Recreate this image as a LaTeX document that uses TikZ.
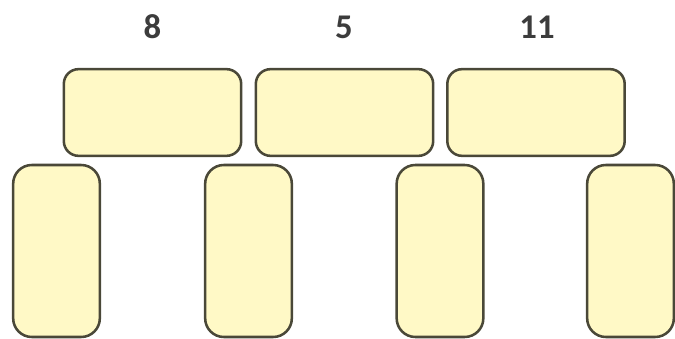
\documentclass[tikz,border=0pt]{standalone}
\usepackage{fontspec}
\setmainfont{Carlito}
\usepackage{xcolor}
\usepackage{tikz}
\usetikzlibrary{positioning}

\definecolor{slabfill}{HTML}{FFF9C6}
\definecolor{slabedge}{HTML}{4A4838}
\definecolor{numgray}{HTML}{3C3C3C}

\begin{document}
\begin{tikzpicture}[
  x=0.75pt, y=-0.75pt,
  lintel/.style={
    draw=slabedge, fill=slabfill, line width=1.9pt,
    rounded corners=11pt,
    minimum width=133pt, minimum height=65pt
  },
  pillar/.style={
    draw=slabedge, fill=slabfill, line width=1.9pt,
    rounded corners=14pt,
    minimum width=65pt, minimum height=129pt
  },
  num/.style={font=\fontsize{26}{28}\selectfont\bfseries, text=numgray},
]
\useasboundingbox (0,0) rectangle (675,339);

%% Row 1 — numbers above the lintels
\node[num] (n8)  at (152.5, 27) {8};
\node[num] (n5)  at (344,   27) {5};
\node[num] (n11) at (537,   27) {11};

%% Row 2 — lintels (x spacing = 192)
\node[lintel] (top1) at (152.5, 112.5) {};
\node[lintel] (top2) at (344.5, 112.5) {};
\node[lintel] (top3) at (536,   112.5) {};

%% Row 3 — pillars, running off the bottom edge
\node[pillar] (post1) at (56.5, 251) {};
\node[pillar] (post2) at (248.5, 251) {};
\node[pillar] (post3) at (440,  251) {};
\node[pillar] (post4) at (630.5, 251) {};
\end{tikzpicture}
\end{document}
